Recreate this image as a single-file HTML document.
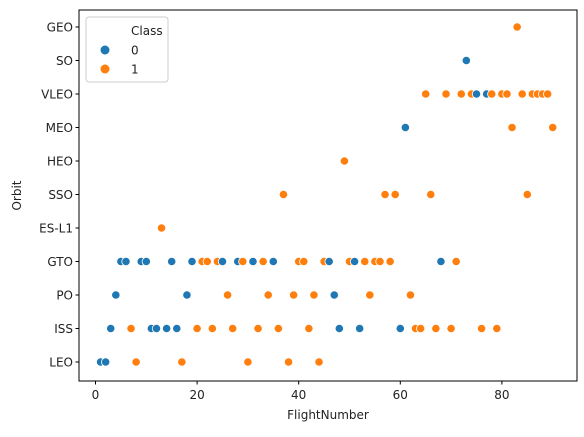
<!DOCTYPE html>
<html><head><meta charset="utf-8"><style>
body{margin:0;background:#fff;font-family:"Liberation Sans","DejaVu Sans",sans-serif;}
svg text{font-family:"DejaVu Sans","Liberation Sans",sans-serif;font-size:12px;fill:#222;}
</style></head><body>
<svg id="chart" width="584" height="432" viewBox="0 0 584 432" xmlns="http://www.w3.org/2000/svg"></svg>
<script>
const orbits = ["GEO","SO","VLEO","MEO","HEO","SSO","ES-L1","GTO","PO","ISS","LEO"];
const flightNumbers = [1,2,3,4,5,6,7,8,9,10,11,12,13,14,15,16,17,18,19,20,21,22,23,24,25,26,27,28,29,30,31,32,33,34,35,36,37,38,39,40,41,42,43,44,45,46,47,48,49,50,51,52,53,54,55,56,57,58,59,60,61,62,63,64,65,66,67,68,69,70,71,72,73,74,75,76,77,78,79,80,81,82,83,84,85,86,87,88,89,90];
const orbitValues = ["LEO","LEO","ISS","PO","GTO","GTO","ISS","LEO","GTO","GTO","ISS","ISS","ES-L1","ISS","GTO","ISS","LEO","PO","GTO","ISS","GTO","GTO","ISS","GTO","GTO","PO","ISS","GTO","GTO","LEO","GTO","ISS","GTO","PO","GTO","ISS","SSO","LEO","PO","GTO","GTO","ISS","PO","LEO","GTO","GTO","PO","ISS","HEO","GTO","GTO","ISS","GTO","PO","GTO","GTO","SSO","GTO","SSO","ISS","MEO","PO","ISS","ISS","VLEO","SSO","ISS","GTO","VLEO","ISS","GTO","VLEO","SO","VLEO","VLEO","ISS","VLEO","VLEO","ISS","VLEO","VLEO","MEO","GEO","VLEO","SSO","VLEO","VLEO","VLEO","VLEO","MEO"];
const classValues = [0,0,0,0,0,0,1,1,0,0,0,0,1,0,0,0,1,0,0,1,1,1,1,1,0,1,1,0,1,1,0,1,1,1,0,1,1,1,1,1,1,1,1,1,1,0,0,0,1,1,0,0,1,1,1,1,1,1,1,0,0,1,1,1,1,1,1,0,1,1,1,1,0,1,0,1,0,1,1,1,1,1,1,1,1,1,1,1,1,1];
const xTicks = [0,20,40,60,80];
const classes = ["0","1"];
const colors = ["#1f77b4","#ff7f0e"];

const svg = document.getElementById('chart');
const NS = "http://www.w3.org/2000/svg";
const L=79, R=577, T=10, B=381;
const xScale = v => 95.5 + v*5.08;
const yScale = o => 27 + orbits.indexOf(o)*33.5;
function mk(tag, attrs){const e=document.createElementNS(NS,tag);for(const k in attrs)e.setAttribute(k,attrs[k]);svg.appendChild(e);return e;}

for(let i=0;i<flightNumbers.length;i++){
  const c=mk('circle',{cx:xScale(flightNumbers[i]),cy:yScale(orbitValues[i]),r:4.2,fill:colors[classValues[i]],stroke:'#fff','stroke-width':0.8});
  
  
}
const frame=mk('rect',{x:L,y:T,width:R-L,height:B-T,fill:'none',stroke:'#000','stroke-width':1});


xTicks.forEach(v=>{
  const x=xScale(v);
  mk('line',{x1:x,x2:x,y1:B,y2:B+3.5,stroke:'#000'});
  const t=mk('text',{x:x,y:B+18,'text-anchor':'middle'});t.textContent=v;
  
  
});
orbits.forEach(o=>{
  const y=yScale(o);
  mk('line',{x1:L-3.5,x2:L,y1:y,y2:y,stroke:'#000'});
  const t=mk('text',{x:L-6,y:y+4.5,'text-anchor':'end'});t.textContent=o;
  
  
});
const xt=mk('text',{x:(L+R)/2,y:419,'text-anchor':'middle'});xt.textContent='FlightNumber';


const yt=mk('text',{x:21,y:(T+B)/2,'text-anchor':'middle',transform:'rotate(-90 21 '+((T+B)/2)+')'});yt.textContent='Orbit';


const lg=mk('rect',{x:86,y:17,width:82,height:65,rx:3,fill:'#fff','fill-opacity':0.8,stroke:'#ccc'});


const lt=mk('text',{x:131,y:35}); lt.textContent='Class';


classes.forEach((c,i)=>{
  const y=50+i*19;
  const m=mk('circle',{cx:105,cy:y,r:4.5,fill:colors[i]});
  
  
  const t=mk('text',{x:131,y:y+4.5});t.textContent=c;
  
  
});
</script>
</body></html>
